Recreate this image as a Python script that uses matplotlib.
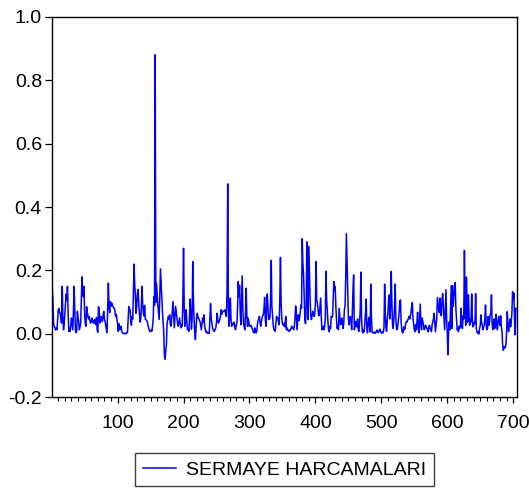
import numpy as np
import matplotlib
matplotlib.use("Agg")
import matplotlib.pyplot as plt
from matplotlib.ticker import MultipleLocator

plt.rcParams['font.family'] = ['Liberation Sans', 'DejaVu Sans']
plt.rcParams['axes.unicode_minus'] = False

series_name = "SERMAYE HARCAMALARI"

# gozlem 1-100
obs_001_100 = [
    0.145, 0.100, 0.030, 0.022, 0.018, 0.012, 0.019, 0.013, 0.042, 0.076,
    0.080, 0.068, 0.065, 0.047, 0.034, 0.150, 0.057, 0.013, 0.032, 0.065,
    0.097, 0.125, 0.107, 0.150, 0.067, 0.008, 0.017, 0.008, 0.027, 0.050,
    0.032, 0.013, 0.067, 0.150, 0.077, 0.013, 0.004, 0.008, 0.071, 0.052,
    0.039, 0.013, 0.022, 0.034, 0.107, 0.180, 0.137, 0.117, 0.150, 0.065,
    0.032, 0.024, 0.086, 0.072, 0.055, 0.047, 0.055, 0.042, 0.034, 0.039,
    0.050, 0.042, 0.034, 0.037, 0.045, 0.032, 0.029, 0.052, 0.013, 0.005,
    0.086, 0.077, 0.034, 0.047, 0.055, 0.042, 0.039, 0.057, 0.071, 0.047,
    0.039, 0.027, 0.013, 0.003, 0.087, 0.160, 0.086, 0.067, 0.102, 0.087,
    0.097, 0.092, 0.086, 0.082, 0.081, 0.072, 0.055, 0.062, 0.045, 0.032,
]
# gozlem 101-200
obs_101_200 = [
    0.008, 0.032, 0.013, 0.017, 0.024, 0.012, 0.004, 0.002, 0.001, 0.002,
    0.000, 0.002, 0.001, 0.003, 0.005, 0.047, 0.086, 0.077, 0.076, 0.039,
    0.027, 0.055, 0.047, 0.127, 0.220, 0.157, 0.117, 0.065, 0.087, 0.127,
    0.140, 0.097, 0.065, 0.037, 0.045, 0.087, 0.150, 0.097, 0.065, 0.057,
    0.090, 0.047, 0.045, 0.042, 0.039, 0.027, 0.019, 0.012, 0.008, 0.007,
    0.013, 0.009, 0.024, 0.047, 0.117, 0.090, 0.880, 0.100, 0.160, 0.127,
    0.091, 0.067, 0.045, 0.117, 0.205, 0.157, 0.117, 0.072, 0.039, 0.005,
    -0.070, -0.080, -0.055, -0.035, 0.030, 0.045, 0.055, 0.047, 0.060, 0.030,
    0.024, 0.047, 0.077, 0.102, 0.057, 0.019, 0.052, 0.087, 0.067, 0.050,
    0.032, 0.024, 0.037, 0.050, 0.032, 0.019, 0.027, 0.024, 0.107, 0.270,
]
# gozlem 201-300
obs_201_300 = [
    0.087, 0.024, 0.047, 0.076, 0.037, 0.013, 0.017, 0.008, 0.047, 0.110,
    0.067, 0.015, 0.047, 0.228, 0.107, 0.045, 0.007, -0.018, 0.017, 0.057,
    0.065, 0.050, 0.050, 0.042, 0.039, 0.027, 0.013, 0.032, 0.050, 0.037,
    0.060, 0.027, 0.013, 0.005, 0.008, 0.002, 0.003, 0.002, 0.002, 0.047,
    0.095, 0.047, 0.034, 0.017, 0.013, 0.009, 0.008, 0.015, 0.019, 0.037,
    0.065, 0.042, 0.034, 0.039, 0.045, 0.057, 0.076, 0.062, 0.070, 0.072,
    0.070, 0.072, 0.076, 0.062, 0.055, 0.137, 0.473, 0.087, 0.024, 0.057,
    0.113, 0.047, 0.024, 0.032, 0.029, 0.037, 0.034, 0.017, 0.013, 0.027,
    0.034, 0.087, 0.165, 0.117, 0.153, 0.067, 0.029, 0.107, 0.183, 0.077,
    0.034, 0.022, 0.013, 0.067, 0.144, 0.057, 0.024, 0.050, 0.037, 0.024,
]
# gozlem 301-400
obs_301_400 = [
    0.024, 0.027, 0.024, 0.017, 0.013, 0.005, 0.003, 0.019, 0.012, 0.003,
    0.007, 0.029, 0.042, 0.047, 0.055, 0.037, 0.024, 0.037, 0.050, 0.057,
    0.060, 0.077, 0.115, 0.047, 0.024, 0.087, 0.126, 0.087, 0.045, 0.047,
    0.050, 0.107, 0.232, 0.087, 0.055, 0.027, 0.013, 0.011, 0.008, 0.032,
    0.055, 0.052, 0.050, 0.037, 0.029, 0.107, 0.241, 0.097, 0.050, 0.032,
    0.029, 0.025, 0.034, 0.022, 0.055, 0.013, 0.019, 0.013, 0.009, 0.008,
    0.013, 0.012, 0.017, 0.024, 0.019, 0.018, 0.013, 0.024, 0.047, 0.088,
    0.075, 0.013, 0.037, 0.060, 0.042, 0.050, 0.067, 0.091, 0.082, 0.300,
    0.223, 0.187, 0.117, 0.045, 0.032, 0.087, 0.290, 0.137, 0.045, 0.276,
    0.187, 0.107, 0.057, 0.045, 0.057, 0.071, 0.062, 0.055, 0.063, 0.097,
]
# gozlem 401-500
obs_401_500 = [
    0.228, 0.107, 0.097, 0.076, 0.057, 0.060, 0.087, 0.113, 0.047, 0.013,
    0.017, 0.024, 0.013, 0.024, 0.047, 0.197, 0.107, 0.076, 0.037, 0.013,
    0.007, 0.024, 0.017, 0.055, 0.052, 0.055, 0.107, 0.165, 0.137, 0.150,
    0.087, 0.045, 0.017, 0.024, 0.013, 0.081, 0.057, 0.029, 0.032, 0.050,
    0.034, 0.017, 0.034, 0.076, 0.090, 0.180, 0.316, 0.223, 0.117, 0.050,
    0.029, 0.049, 0.055, 0.037, 0.013, 0.067, 0.140, 0.186, 0.013, 0.022,
    0.039, 0.027, 0.022, 0.047, 0.013, 0.008, 0.037, 0.077, 0.195, 0.047,
    0.008, 0.003, 0.013, 0.007, 0.037, 0.067, 0.110, 0.017, 0.003, 0.034,
    0.052, 0.027, 0.007, 0.157, 0.047, 0.005, 0.004, 0.002, 0.006, 0.003,
    0.002, 0.005, 0.012, 0.010, 0.004, 0.006, 0.012, 0.015, 0.008, 0.003,
]
# gozlem 501-600
obs_501_600 = [
    0.002, 0.007, 0.004, 0.020, 0.157, 0.067, 0.017, 0.008, 0.044, 0.067,
    0.107, 0.123, 0.047, 0.087, 0.197, 0.097, 0.027, 0.017, 0.047, 0.087,
    0.157, 0.047, 0.017, 0.013, 0.027, 0.047, 0.067, 0.104, 0.107, 0.037,
    0.013, 0.003, 0.005, 0.022, 0.013, 0.017, 0.034, 0.039, 0.037, 0.045,
    0.047, 0.055, 0.047, 0.055, 0.067, 0.087, 0.099, 0.047, 0.032, 0.013,
    0.007, 0.029, 0.013, 0.037, 0.068, 0.013, 0.003, 0.047, 0.094, 0.027,
    0.013, 0.050, 0.037, 0.027, 0.013, 0.017, 0.027, 0.024, 0.017, 0.013,
    0.007, 0.022, 0.027, 0.017, 0.013, 0.007, 0.029, 0.037, 0.047, 0.065,
    0.034, 0.007, 0.027, 0.047, 0.115, 0.097, 0.077, 0.067, 0.113, 0.072,
    0.057, 0.107, 0.127, 0.087, 0.047, 0.013, 0.077, 0.139, 0.047, 0.003,
]
# gozlem 601-705
obs_601_705 = [
    -0.066, 0.007, 0.037, 0.013, 0.087, 0.152, 0.017, 0.152, 0.087, 0.118,
    0.132, 0.162, 0.082, 0.047, 0.013, 0.017, 0.007, 0.024, 0.017, 0.027,
    0.081, 0.027, 0.017, 0.057, 0.047, 0.263, 0.087, 0.027, 0.179, 0.097,
    0.037, 0.123, 0.057, 0.027, 0.047, 0.037, 0.126, 0.047, 0.022, 0.027,
    0.037, 0.032, 0.127, 0.017, 0.007, 0.002, 0.007, 0.000, 0.017, 0.027,
    0.060, 0.037, 0.027, 0.013, 0.022, 0.027, 0.047, 0.091, 0.027, 0.013,
    0.017, 0.055, 0.027, 0.037, 0.060, 0.065, 0.123, 0.032, 0.013, 0.037,
    0.047, 0.017, 0.037, 0.062, 0.027, 0.013, 0.037, 0.055, 0.037, 0.027,
    0.057, 0.022, 0.007, -0.035, -0.052, -0.040, -0.045, -0.042, -0.035, 0.007,
    0.070, 0.027, 0.007, 0.027, 0.047, 0.022, 0.037, 0.067, 0.133, 0.107,
    0.128, 0.047, -0.003, 0.081, 0.080,
]

y_ticks = [-0.2, 0.0, 0.2, 0.4, 0.6, 0.8, 1.0]
x_ticks = [100, 200, 300, 400, 500, 600, 700]

values = np.array(obs_001_100 + obs_101_200 + obs_201_300 + obs_301_400
                  + obs_401_500 + obs_501_600 + obs_601_705)
obs = np.arange(1, len(values) + 1)

fig = plt.figure(figsize=(5.29, 4.92), dpi=100)
ax = fig.add_axes([0.0989, 0.1925, 0.8775, 0.7734])

ax.plot(obs, values, color='#0000FF', lw=1.1, label=series_name)

ax.set_xlim(1, len(values))
ax.set_ylim(-0.2, 1.0)
ax.set_xticks(x_ticks)
ax.xaxis.set_minor_locator(MultipleLocator(10))
ax.set_yticks(y_ticks)
ax.set_yticklabels([f"{v:.1f}" for v in y_ticks])

ax.tick_params(axis='both', which='major', direction='out', labelsize=14,
               color='black', width=0.9)
ax.tick_params(axis='y', which='major', length=5, pad=2.5)
ax.tick_params(axis='x', which='major', length=4.5, pad=8.5)
ax.tick_params(axis='x', which='minor', length=2.6, width=0.8, direction='out')
ax.tick_params(top=False, right=False)

for sp in ax.spines.values():
    sp.set_color('black')
    sp.set_linewidth(1.0)

leg = ax.legend(loc='center', bbox_to_anchor=(0.5374, 0.0453),
                bbox_transform=fig.transFigure, fontsize=14,
                fancybox=False, framealpha=1, edgecolor='#404040',
                borderpad=0.4, handlelength=1.7, handletextpad=0.5)
leg.get_frame().set_linewidth(1.0)

fig.savefig('out.png', dpi=100)
